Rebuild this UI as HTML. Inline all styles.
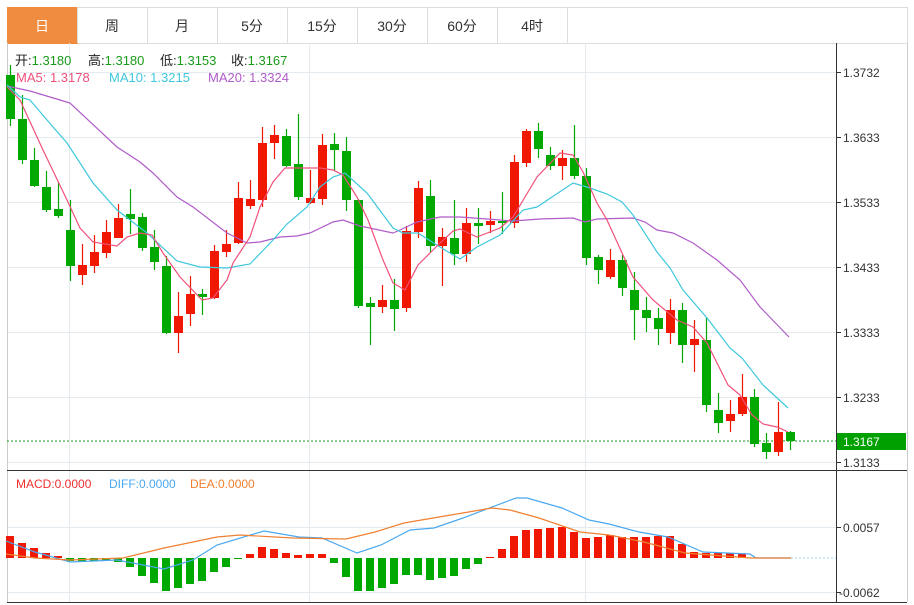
<!DOCTYPE html>
<html><head><meta charset="utf-8"><style>
body{margin:0;background:#fff;width:914px;height:605px;overflow:hidden;font-family:"Liberation Sans","Noto Sans CJK SC",sans-serif;}
svg{position:absolute;left:0;top:0}
</style></head><body>
<svg id="s" width="914" height="605" xmlns="http://www.w3.org/2000/svg" font-family="Liberation Sans, Noto Sans CJK SC, sans-serif">
<rect x="7.5" y="7.5" width="900" height="36" fill="#fff" stroke="#ddd"/>
<rect x="7.5" y="7.5" width="70" height="36" fill="#f08c40" stroke="#f08c40"/>
<g stroke="#ddd"><line x1="147.5" y1="7" x2="147.5" y2="43"/><line x1="217.5" y1="7" x2="217.5" y2="43"/><line x1="287.5" y1="7" x2="287.5" y2="43"/><line x1="357.5" y1="7" x2="357.5" y2="43"/><line x1="427.5" y1="7" x2="427.5" y2="43"/><line x1="497.5" y1="7" x2="497.5" y2="43"/><line x1="567.5" y1="7" x2="567.5" y2="43"/><line x1="77.5" y1="7" x2="77.5" y2="43"/></g>
<g font-size="14" text-anchor="middle" fill="#333"><text x="42" y="31" fill="#fff">日</text><text x="112" y="31">周</text><text x="182" y="31">月</text><text x="252" y="31">5分</text><text x="322" y="31">15分</text><text x="392" y="31">30分</text><text x="462" y="31">60分</text><text x="532" y="31">4时</text></g>
<g stroke="#e3eaf0"><line x1="7" y1="72.5" x2="836" y2="72.5"/><line x1="7" y1="137.5" x2="836" y2="137.5"/><line x1="7" y1="202.5" x2="836" y2="202.5"/><line x1="7" y1="267.5" x2="836" y2="267.5"/><line x1="7" y1="332.5" x2="836" y2="332.5"/><line x1="7" y1="397.5" x2="836" y2="397.5"/><line x1="7" y1="462.5" x2="836" y2="462.5"/><line x1="7" y1="527.5" x2="836" y2="527.5"/><line x1="7" y1="592.5" x2="836" y2="592.5"/>
<line x1="69.5" y1="43" x2="69.5" y2="602"/><line x1="309.5" y1="43" x2="309.5" y2="602"/><line x1="585.5" y1="43" x2="585.5" y2="602"/></g>
<line x1="7.5" y1="43" x2="7.5" y2="602" stroke="#ccc"/>
<line x1="907.5" y1="43" x2="907.5" y2="602" stroke="#ccc"/>
<line x1="836.5" y1="43" x2="836.5" y2="602" stroke="#333"/>
<line x1="7" y1="470.5" x2="907" y2="470.5" stroke="#333"/>
<line x1="7" y1="602.5" x2="907" y2="602.5" stroke="#333"/>
<g stroke="#333"><line x1="836" y1="72.5" x2="841" y2="72.5"/><line x1="836" y1="137.5" x2="841" y2="137.5"/><line x1="836" y1="202.5" x2="841" y2="202.5"/><line x1="836" y1="267.5" x2="841" y2="267.5"/><line x1="836" y1="332.5" x2="841" y2="332.5"/><line x1="836" y1="397.5" x2="841" y2="397.5"/><line x1="836" y1="462.5" x2="841" y2="462.5"/><line x1="836" y1="527.5" x2="841" y2="527.5"/><line x1="836" y1="592.5" x2="841" y2="592.5"/></g>
<g font-size="12" fill="#333"><text x="843" y="77">1.3732</text><text x="843" y="142">1.3633</text><text x="843" y="207">1.3533</text><text x="843" y="272">1.3433</text><text x="843" y="337">1.3333</text><text x="843" y="402">1.3233</text><text x="843" y="467">1.3133</text><text x="843" y="532">0.0057</text><text x="839" y="597">-0.0062</text></g>
<line x1="7" y1="441" x2="836" y2="441" stroke="#1a9a1a" stroke-dasharray="2,2"/>
<rect x="837" y="433" width="69" height="17" fill="#00a000"/>
<text x="843" y="446" font-size="12" fill="#fff">1.3167</text>
<line x1="791" y1="558" x2="836" y2="558" stroke="#9cd0f0" stroke-dasharray="2,2"/>
<g id="c"></g>
<g font-size="13">
<text x="15" y="65" fill="#222">开:<tspan fill="#1a9a1a">1.3180</tspan></text>
<text x="88" y="65" fill="#222">高:<tspan fill="#1a9a1a">1.3180</tspan></text>
<text x="160" y="65" fill="#222">低:<tspan fill="#1a9a1a">1.3153</tspan></text>
<text x="231" y="65" fill="#222">收:<tspan fill="#1a9a1a">1.3167</tspan></text>
<text x="16" y="82" fill="#f0507a">MA5: 1.3178</text>
<text x="109" y="82" fill="#3ec8dc">MA10: 1.3215</text>
<text x="208" y="82" fill="#b05cc8">MA20: 1.3324</text>
<text x="16" y="488" font-size="12" fill="#f03030">MACD:0.0000</text>
<text x="109" y="488" font-size="12" fill="#4aa8f0">DIFF:0.0000</text>
<text x="190" y="488" font-size="12" fill="#f08030">DEA:0.0000</text></g>
</svg>
<script>
var C=[[75,119,65,126],[119,160,95,164],[160,186,148,187],[187,210,171,212],[209,216,182,218],[230,266,200,281],[275,265,244,285],[266,252,235,273],[253,232,220,258],[238,218,204,238],[214,219,189,234],[217,248,213,251],[247,262,230,270],[266,333,256,334],[333,316,292,353],[314,294,276,326],[294,297,289,315],[298,251,245,299],[252,244,230,257],[243,198,182,244],[206,199,180,209],[200,143,127,207],[143,135,125,159],[136,166,129,167],[164,197,114,200],[203,198,170,204],[199,145,134,205],[144,150,133,171],[151,200,137,211],[200,306,199,308],[303,307,297,345],[307,300,285,313],[300,309,279,331],[308,231,226,312],[232,188,181,238],[196,246,180,253],[246,237,228,286],[238,254,200,265],[254,223,208,262],[223,226,208,244],[225,221,211,233],[221,223,192,234],[223,162,155,228],[163,131,129,167],[131,149,123,158],[155,166,147,170],[166,158,150,180],[158,176,125,179],[176,258,168,265],[257,270,255,284],[277,260,249,279],[260,288,255,296],[290,310,272,340],[310,318,297,332],[318,329,308,345],[333,310,299,344],[310,345,303,363],[345,339,320,372],[340,405,317,412],[410,423,393,433],[421,414,400,432],[414,397,374,416],[397,444,389,447],[443,452,433,459],[452,432,402,456],[432,441,431,450]];
var M=[536,543,548,553,556,561,561,561,561,562,567,576,583,591,588,584,581,572,567,559,554,547,549,553,555,554,554,563,577,591,591,588,584,575,575,580,578,576,569,564,557,549,536,530,529,528,527,532,538,537,535,537,537,537,536,536,544,552,553,553,553,554];
var h='',R='#f01800',G='#00a800';
C.forEach(function(c,i){var x=10+12*i,up=c[1]<c[0],col=up?R:G,t=Math.min(c[0],c[1]),b=Math.max(c[0],c[1]);
h+='<line x1="'+(x+.5)+'" y1="'+c[2]+'" x2="'+(x+.5)+'" y2="'+c[3]+'" stroke="'+col+'" stroke-width="1.2"/>';
h+='<rect x="'+(x-4)+'" y="'+t+'" width="9" height="'+Math.max(b-t,1.5)+'" fill="'+col+'"/>';});
M.forEach(function(v,i){var x=10+12*i,up=v<558,t=Math.min(v,558),b=Math.max(v,558);
h+='<rect x="'+(x-4)+'" y="'+t+'" width="8" height="'+Math.max(b-t,1)+'" fill="'+(up?R:G)+'"/>';});
function pl(p,c){return '<polyline fill="none" stroke="'+c+'" stroke-width="1.2" points="'+p+'"/>';}
h+=pl("7,86 30,91 60,100 70,103 117,147 140,162 153,173 177,197 193,207 227,233 247,243 260,242 280,237 297,236 310,233 333,222 343,220 360,226 393,233 400,230 417,222 440,217 460,217 487,219 513,221 540,219 573,218 585,222 597,219 633,218 645,222 657,230 673,233 693,243 717,260 740,280 760,307 789,337","#b05cc8");
h+=pl("7,85 20,97 30,100 47,120 67,143 93,183 117,210 147,233 177,261 200,267 227,268 250,264 273,240 287,224 307,207 320,187 333,177 345,173 367,193 393,228 403,233 418,233 440,247 460,259 477,247 500,235 523,210 537,207 573,183 590,188 607,194 622,202 633,215 657,252 670,268 683,290 707,318 730,348 742,358 763,385 788,408","#3ec8dc");
h+=pl("7,87 20,100 43,150 67,200 80,228 93,242 117,246 127,237 140,233 152,235 163,253 180,277 202,300 213,298 227,280 233,263 250,237 260,207 273,182 285,168 320,168 333,170 343,175 357,197 368,220 383,260 393,283 405,290 418,265 430,253 440,243 453,231 460,229 477,237 500,228 513,217 537,177 560,153 573,155 583,172 597,203 607,220 633,277 653,300 677,320 693,327 707,343 728,385 740,395 752,415 763,424 777,427 788,432","#f0507a");
h+=pl("6,541 35,552 70,562 117,560 164,569 193,560 217,545 264,531 299,537 322,538 357,553 381,545 410,530 434,528 463,518 516,498 527,498 562,508 589,520 609,524 639,532 668,537 703,552 750,554 756,558 791,558","#4aa8f0");
h+=pl("6,554 35,558 70,560 123,558 164,548 217,537 240,535 293,538 346,539 375,532 404,523 439,517 492,508 510,510 539,518 580,532 609,535 644,542 685,553 750,558 791,558","#f08030");
document.getElementById('c').innerHTML=h;
</script>
</body></html>
